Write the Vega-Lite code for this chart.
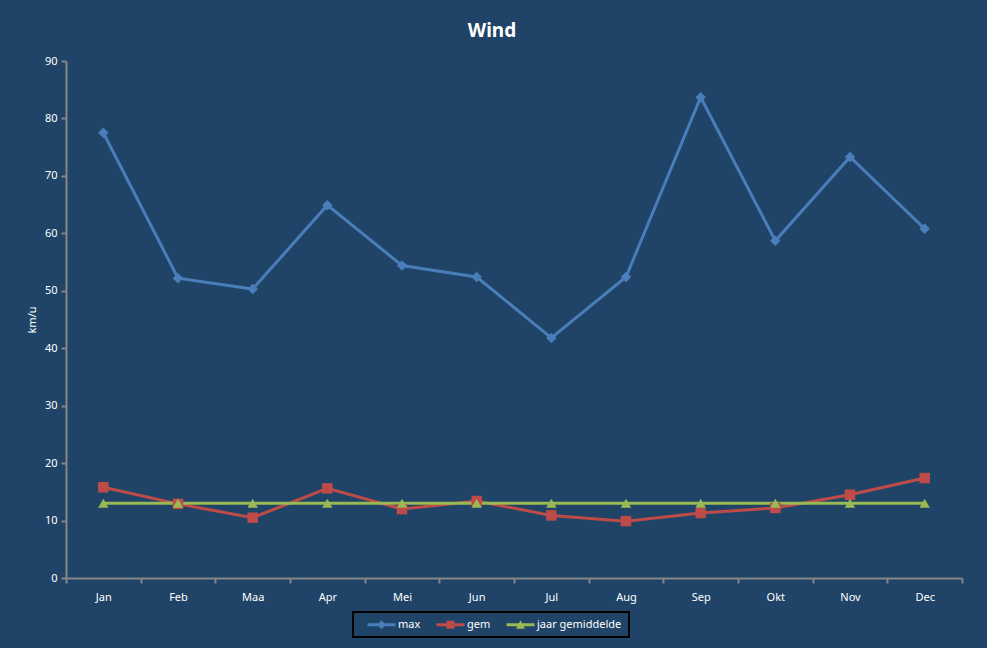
{
  "$schema": "https://vega.github.io/schema/vega-lite/v6.json",
  "autosize": {"type": "none"},
  "padding": {"left": 66, "top": 61, "right": 25, "bottom": 70},
  "width": 896,
  "height": 517,
  "background": "#1F4467",
  "view": {"stroke": null},
  "title": {
    "text": "Wind",
    "anchor": "middle",
    "dx": -22,
    "offset": 14,
    "fontSize": 19,
    "fontWeight": "bold",
    "color": "white"
  },
  "data": {
    "values": [
      {"maand": "Jan", "reeks": "max", "waarde": 77.5},
      {"maand": "Feb", "reeks": "max", "waarde": 52.2},
      {"maand": "Maa", "reeks": "max", "waarde": 50.3},
      {"maand": "Apr", "reeks": "max", "waarde": 64.9},
      {"maand": "Mei", "reeks": "max", "waarde": 54.4},
      {"maand": "Jun", "reeks": "max", "waarde": 52.4},
      {"maand": "Jul", "reeks": "max", "waarde": 41.8},
      {"maand": "Aug", "reeks": "max", "waarde": 52.4},
      {"maand": "Sep", "reeks": "max", "waarde": 83.7},
      {"maand": "Okt", "reeks": "max", "waarde": 58.7},
      {"maand": "Nov", "reeks": "max", "waarde": 73.3},
      {"maand": "Dec", "reeks": "max", "waarde": 60.8},
      {"maand": "Jan", "reeks": "gem", "waarde": 15.8},
      {"maand": "Feb", "reeks": "gem", "waarde": 12.9},
      {"maand": "Maa", "reeks": "gem", "waarde": 10.5},
      {"maand": "Apr", "reeks": "gem", "waarde": 15.6},
      {"maand": "Mei", "reeks": "gem", "waarde": 12.0},
      {"maand": "Jun", "reeks": "gem", "waarde": 13.4},
      {"maand": "Jul", "reeks": "gem", "waarde": 10.9},
      {"maand": "Aug", "reeks": "gem", "waarde": 9.9},
      {"maand": "Sep", "reeks": "gem", "waarde": 11.3},
      {"maand": "Okt", "reeks": "gem", "waarde": 12.2},
      {"maand": "Nov", "reeks": "gem", "waarde": 14.5},
      {"maand": "Dec", "reeks": "gem", "waarde": 17.4},
      {"maand": "Jan", "reeks": "jaar gemiddelde", "waarde": 13.0},
      {"maand": "Feb", "reeks": "jaar gemiddelde", "waarde": 13.0},
      {"maand": "Maa", "reeks": "jaar gemiddelde", "waarde": 13.0},
      {"maand": "Apr", "reeks": "jaar gemiddelde", "waarde": 13.0},
      {"maand": "Mei", "reeks": "jaar gemiddelde", "waarde": 13.0},
      {"maand": "Jun", "reeks": "jaar gemiddelde", "waarde": 13.0},
      {"maand": "Jul", "reeks": "jaar gemiddelde", "waarde": 13.0},
      {"maand": "Aug", "reeks": "jaar gemiddelde", "waarde": 13.0},
      {"maand": "Sep", "reeks": "jaar gemiddelde", "waarde": 13.0},
      {"maand": "Okt", "reeks": "jaar gemiddelde", "waarde": 13.0},
      {"maand": "Nov", "reeks": "jaar gemiddelde", "waarde": 13.0},
      {"maand": "Dec", "reeks": "jaar gemiddelde", "waarde": 13.0}
    ]
  },
  "encoding": {
    "x": {
      "field": "maand",
      "type": "nominal",
      "sort": ["Jan", "Feb", "Maa", "Apr", "Mei", "Jun", "Jul", "Aug", "Sep", "Okt", "Nov", "Dec"],
      "title": null,
      "scale": {"type": "band", "paddingInner": 0, "paddingOuter": 0},
      "axis": {
        "tickBand": "extent",
        "labelAngle": 0,
        "labelPadding": 8,
        "tickSize": 5,
        "grid": false
      }
    },
    "y": {
      "field": "waarde",
      "type": "quantitative",
      "title": "km/u",
      "scale": {"domain": [0, 90]},
      "axis": {
        "values": [0, 10, 20, 30, 40, 50, 60, 70, 80, 90],
        "grid": false,
        "tickSize": 5,
        "labelPadding": 4,
        "titlePadding": 7
      }
    },
    "color": {
      "field": "reeks",
      "type": "nominal",
      "title": null,
      "scale": {
        "domain": ["max", "gem", "jaar gemiddelde"],
        "range": ["#4A7EBB", "#BE4B48", "#98B954"]
      }
    }
  },
  "layer": [
    {
      "mark": {"type": "line", "strokeWidth": 3}
    },
    {
      "mark": {"type": "point", "filled": true, "size": 110, "opacity": 1},
      "encoding": {
        "shape": {
          "condition": [
            {"test": "datum.reeks === 'max'", "value": "diamond"},
            {"test": "datum.reeks === 'gem'", "value": "square"}
          ],
          "value": "triangle-up"
        }
      }
    },
    {
      "transform": [{"filter": "false"}],
      "mark": {"type": "point", "filled": true, "opacity": 1},
      "encoding": {
        "shape": {
          "field": "reeks",
          "type": "nominal",
          "title": null,
          "scale": {
            "domain": ["max", "gem", "jaar gemiddelde"],
            "range": [
              "M0.4,-0.3H6V0.3H0.4Z M3.2,-0.9L4,0L3.2,0.9L2.4,0Z",
              "M0.4,-0.3H6V0.3H0.4Z M2.4,-0.8H4V0.8H2.4Z",
              "M0.4,-0.3H6V0.3H0.4Z M3.2,-0.9L4.1,0.8H2.3Z"
            ]
          }
        }
      }
    }
  ],
  "config": {
    "font": "Noto Sans",
    "axis": {
      "domainColor": "#868686",
      "domainWidth": 2,
      "tickColor": "#868686",
      "tickWidth": 2,
      "labelColor": "white",
      "labelFontSize": 11,
      "titleColor": "white",
      "titleFontSize": 11,
      "titleFontWeight": "normal"
    },
    "legend": {
      "orient": "none",
      "legendX": 287,
      "legendY": 551,
      "direction": "horizontal",
      "symbolSize": 100,
      "symbolStrokeWidth": 0,
      "symbolOpacity": 1,
      "labelOffset": 27,
      "columnPadding": 8,
      "padding": 7,
      "strokeColor": "black",
      "strokeWidth": 2,
      "labelFontSize": 11,
      "labelColor": "white"
    }
  }
}
